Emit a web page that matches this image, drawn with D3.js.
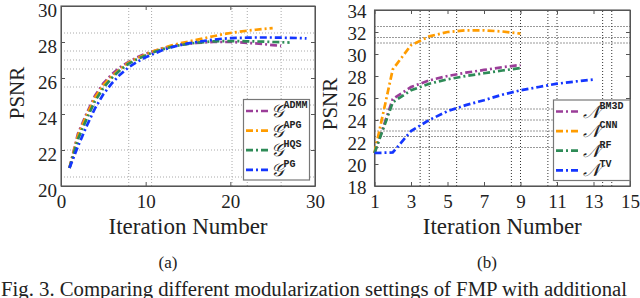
<!DOCTYPE html>
<html><head><meta charset="utf-8">
<script src="https://cdn.jsdelivr.net/npm/d3@7"></script>
<style>body{margin:0;background:#fff}svg{display:block}
.sf{font-family:"Liberation Serif","DejaVu Serif","Noto Serif",serif}
.mono{font-family:"Liberation Mono","DejaVu Sans Mono",monospace;font-weight:bold}
</style>
</head><body>
<svg id="c" width="640" height="298"></svg>
<script>
// ---------- Panel (a) data ----------
const iterADMM = [1,2,3,4,5,6,7,8,9,10,11,12,13,14,15,16,17,18,19,20,21,22,23,24,25,26];
const psnrADMM = [21.0,22.9,24.0,25.0,25.7,26.2,26.6,26.9,27.15,27.35,27.5,27.65,27.75,27.85,27.9,27.95,27.98,28.0,28.0,28.0,27.98,27.95,27.92,27.88,27.83,27.78];
const iterAPG = [1,2,3,4,5,6,7,8,9,10,11,12,13,14,15,16,17,18,19,20,21,22,23,24,25];
const psnrAPG = [21.0,22.8,23.9,24.9,25.6,26.1,26.5,26.85,27.1,27.3,27.5,27.65,27.8,27.92,28.02,28.12,28.22,28.32,28.42,28.5,28.57,28.63,28.68,28.73,28.77];
const iterHQS = [1,2,3,4,5,6,7,8,9,10,11,12,13,14,15,16,17,18,19,20,21,22,23,24,25,26,27];
const psnrHQS = [21.0,22.6,23.7,24.7,25.45,26.0,26.45,26.8,27.05,27.25,27.45,27.6,27.72,27.82,27.9,27.96,28.0,28.03,28.05,28.05,28.05,28.04,28.03,28.02,28.0,27.99,27.97];
const iterPG = [1,2,3,4,5,6,7,8,9,10,11,12,13,14,15,16,17,18,19,20,21,22,23,24,25,26,27,28,29];
const psnrPG = [21.0,22.2,23.3,24.3,25.1,25.7,26.2,26.6,26.9,27.15,27.35,27.55,27.7,27.82,27.92,28.0,28.07,28.13,28.18,28.21,28.23,28.24,28.25,28.25,28.25,28.24,28.23,28.22,28.2];
const xTicksA = [0,10,20,30];
const yTicksA = [20,22,24,26,28,30];
const gridXA = [8,10.7,20.2,22,26];
const gridYA = [20.5,22,24.5,25.5,26.5,27,27.5,28.5];
const legendA = ["ADMM","APG","HQS","PG"];

// ---------- Panel (b) data ----------
const iterBM3D = [1,2,3,4,5,6,7,8,9];
const psnrBM3D = [21.0,25.9,27.0,27.6,28.0,28.3,28.55,28.8,29.0];
const iterCNN = [1,2,3,4,5,6,7,8,9];
const psnrCNN = [21.0,28.6,30.8,31.6,32.0,32.15,32.15,32.05,31.85];
const iterRF = [1,2,3,4,5,6,7,8,9];
const psnrRF = [21.0,25.6,26.7,27.3,27.7,28.0,28.25,28.5,28.72];
const iterTV = [1,2,3,4,5,6,7,8,9,10,11,12,13];
const psnrTV = [21.0,21.05,23.0,24.0,24.8,25.35,25.8,26.3,26.7,27.0,27.3,27.5,27.68];
const xTicksB = [1,3,5,7,9,11,13,15];
const yTicksB = [18,20,22,24,26,28,30,32,34];
const gridXB = [3.5,4,5.5,8.5,9,10.5,11,13.5,14];
const gridYB = [21.5,22.5,23,24,25,31,31.5,32.5];
const legendB = ["BM3D","CNN","RF","TV"];

const colors = ["#9b3d98","#ff9c00","#2e8b57","#1436ff"];
const dash = "7,3,2,3";

const svg = d3.select("#c");

function panel(cfg){
  const x = d3.scaleLinear().domain(cfg.xd).range(cfg.xr);
  const y = d3.scaleLinear().domain(cfg.yd).range(cfg.yr);
  const g = svg.append("g");
  // grid
  g.selectAll(".gx").data(cfg.gx).join("line")
    .attr("x1",d=>x(d)).attr("x2",d=>x(d)).attr("y1",cfg.yr[0]).attr("y2",cfg.yr[1])
    .attr("stroke",cfg.gridColor).attr("stroke-width",1).attr("stroke-dasharray","1,2");
  g.selectAll(".gy").data(cfg.gy).join("line")
    .attr("y1",d=>y(d)).attr("y2",d=>y(d)).attr("x1",cfg.xr[0]).attr("x2",cfg.xr[1])
    .attr("stroke",cfg.gridColor).attr("stroke-width",1).attr("stroke-dasharray","1,2");
  // box
  g.append("rect").attr("x",cfg.xr[0]).attr("y",cfg.yr[1])
    .attr("width",cfg.xr[1]-cfg.xr[0]).attr("height",cfg.yr[0]-cfg.yr[1])
    .attr("fill","none").attr("stroke","#555").attr("stroke-width",1.1);
  // axes
  const ax = g.append("g").attr("transform",`translate(0,${cfg.yr[0]})`)
    .call(d3.axisBottom(x).tickValues(cfg.xt).tickSizeInner(-4).tickSizeOuter(0).tickPadding(9).tickFormat(d3.format("d")));
  const ay = g.append("g").attr("transform",`translate(${cfg.xr[0]},0)`)
    .call(d3.axisLeft(y).tickValues(cfg.yt).tickSizeInner(-4).tickSizeOuter(0).tickPadding(cfg.ypad).tickFormat(d3.format("d")));
  const ar = g.append("g").attr("transform",`translate(${cfg.xr[1]},0)`)
    .call(d3.axisRight(y).tickValues(cfg.yt).tickSizeInner(-4).tickSizeOuter(0).tickFormat(""));
  const at = g.append("g").attr("transform",`translate(0,${cfg.yr[1]})`)
    .call(d3.axisTop(x).tickValues(cfg.xt).tickSizeInner(-4).tickSizeOuter(0).tickFormat(""));
  [ax,ay,ar,at].forEach(a=>{
    a.attr("font-family",null).attr("font-size",null);
    a.select(".domain").attr("stroke","#555");
    a.selectAll(".tick line").attr("stroke","#555");
    a.selectAll("text").attr("class","sf").style("font-size","19px").attr("fill","#222");
  });
  ay.selectAll("text").attr("dy",cfg.ydy);
  // lines
  const line = d3.line().x(d=>x(d[0])).y(d=>y(d[1]));
  cfg.series.forEach((s,i)=>{
    g.append("path").datum(d3.zip(s[0],s[1]))
      .attr("d",line).attr("fill","none").attr("stroke",colors[i])
      .attr("stroke-width",2.7).attr("stroke-dasharray",dash);
  });
  // axis titles
  g.append("text").attr("class","sf").attr("x",(cfg.xr[0]+cfg.xr[1])/2).attr("y",234)
    .attr("text-anchor","middle").style("font-size","23px").attr("fill","#222")
    .text("Iteration Number");
  g.append("text").attr("class","sf").attr("transform",`translate(${cfg.ylx},${cfg.ylc}) rotate(-90)`)
    .attr("text-anchor","middle").style("font-size","21px").attr("fill","#222")
    .text("PSNR");
  // legend
  const L = cfg.leg;
  g.append("rect").attr("x",L.x).attr("y",L.y).attr("width",L.w).attr("height",L.h)
    .attr("fill","#fff").attr("stroke","#777").attr("stroke-width",1.2);
  cfg.labels.forEach((lab,i)=>{
    const cy = L.y + 11.5 + i*19.6;
    g.append("line").attr("x1",L.x+2.5).attr("x2",L.x+2.5+L.lw).attr("y1",cy).attr("y2",cy)
      .attr("stroke",colors[i]).attr("stroke-width",2.7).attr("stroke-dasharray",dash);
    const t = g.append("text").attr("class","sf").attr("x",L.x+4+L.lw).attr("y",cy+6)
      .style("font-size","18px").attr("fill","#222");
    t.append("tspan").style("font-style","italic").text(cfg.sym);
    t.append("tspan").attr("class","mono").style("font-size","10px").attr("dy",-9).text(lab);
  });
}

panel({xd:[0,30],xr:[61,315],yd:[20,30],yr:[186,6],xt:xTicksA,yt:yTicksA,gx:gridXA,gy:gridYA,
  gridColor:"#aaa",ypad:4,ydy:"0.53em",ylx:24,ylc:93,sym:"𝒢",labels:legendA,
  leg:{x:243.5,y:99.5,w:66,h:80.5,lw:23},
  series:[[iterADMM,psnrADMM],[iterAPG,psnrAPG],[iterHQS,psnrHQS],[iterPG,psnrPG]]});
panel({xd:[1,15],xr:[374.5,630],yd:[18,34],yr:[186,10],xt:xTicksB,yt:yTicksB,gx:gridXB,gy:gridYB,
  gridColor:"#333",ypad:8,ydy:"0.38em",ylx:337,ylc:104,sym:"𝒩",labels:legendB,
  leg:{x:553.5,y:100,w:76.5,h:80.5,lw:25},
  series:[[iterBM3D,psnrBM3D],[iterCNN,psnrCNN],[iterRF,psnrRF],[iterTV,psnrTV]]});

// captions
svg.append("text").attr("class","sf").attr("x",168).attr("y",268).attr("text-anchor","middle")
  .style("font-size","17px").attr("fill","#222").text("(a)");
svg.append("text").attr("class","sf").attr("x",487).attr("y",268).attr("text-anchor","middle")
  .style("font-size","17px").attr("fill","#222").text("(b)");
svg.append("text").attr("class","sf").attr("x",1).attr("y",296).style("font-size","20.5px").attr("fill","#222")
  .attr("textLength",626).attr("lengthAdjust","spacingAndGlyphs")
  .text("Fig. 3.  Comparing different modularization settings of FMP with additional");
</script>
</body></html>
